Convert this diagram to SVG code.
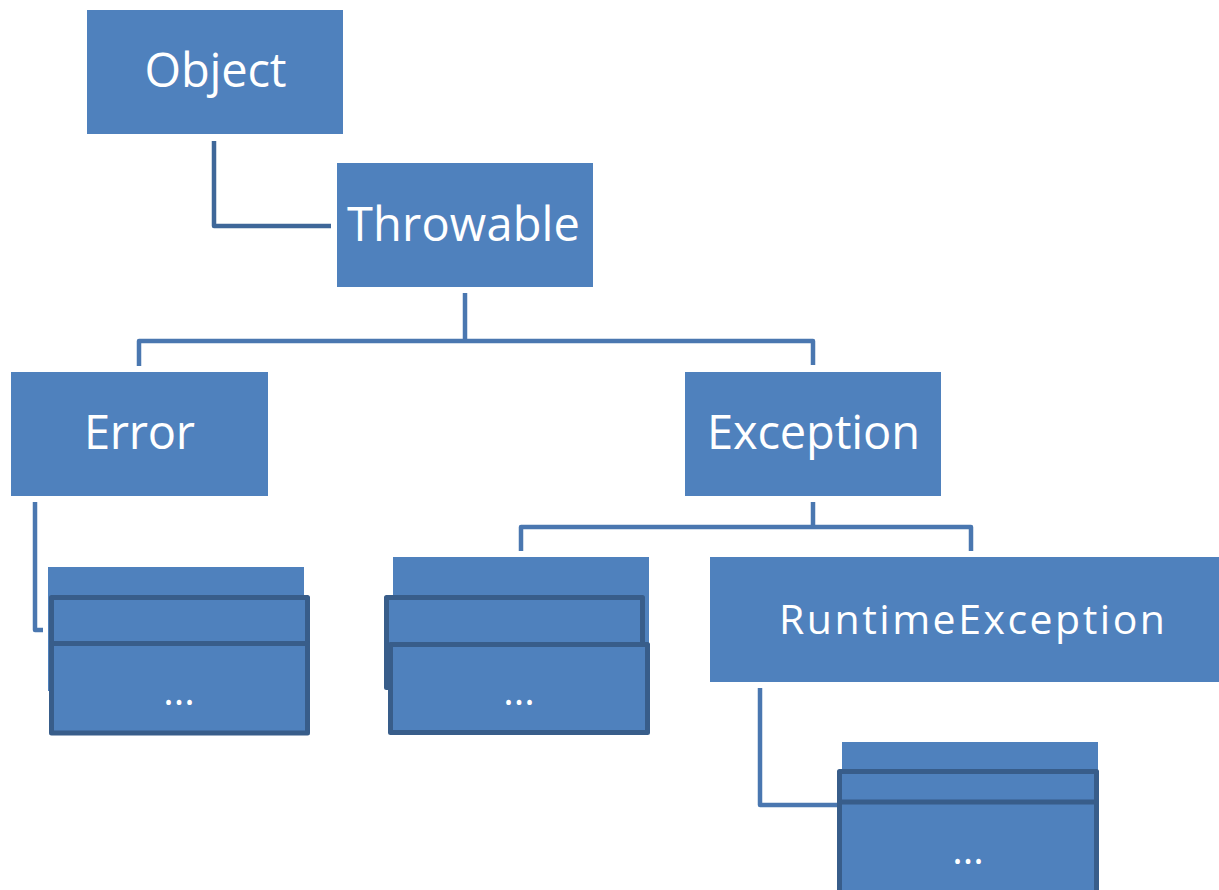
<svg xmlns="http://www.w3.org/2000/svg" width="1219" height="890" viewBox="0 0 1219 890">
<style>
.node{fill:#4f81bd;}
.box{fill:#4f81bd;stroke:#385d8a;stroke-width:5;stroke-linejoin:round;}
.lbl{fill:#ffffff;font-family:"Open Sans","Noto Sans","Liberation Sans",sans-serif;font-size:47px;text-anchor:middle;}
.lbl2{fill:#ffffff;font-family:"Open Sans","Noto Sans","Liberation Sans",sans-serif;font-size:41px;text-anchor:middle;}
.dots{fill:#ffffff;font-family:"Open Sans","Noto Sans","Liberation Sans",sans-serif;font-size:40px;text-anchor:middle;}
.conn{fill:none;stroke:#4a77b0;stroke-width:4.5;stroke-linejoin:round;}
</style>
<rect width="1219" height="890" fill="#ffffff"/>
<g id="connectors">
<path class="conn" d="M214,141 V226 H331" style="stroke:#3e6799"/>
<path class="conn" d="M465,293 V341"/>
<path class="conn" d="M139,366 V341 H813 V365"/>
<path class="conn" d="M35,502 V630 H43"/>
<path class="conn" d="M813,502 V527"/>
<path class="conn" d="M521,551 V527 H971 V551"/>
<path class="conn" d="M760,688 V805 H837"/>
</g>
<g id="object">
<rect class="node" x="87" y="10" width="256" height="124"/>
<text class="lbl" x="215.5" y="87" textLength="142">Object</text>
</g>
<g id="throwable">
<rect class="node" x="337" y="163" width="256" height="124"/>
<text class="lbl" x="463.5" y="241" textLength="233">Throwable</text>
</g>
<g id="error">
<rect class="node" x="11" y="372" width="257" height="124"/>
<text class="lbl" x="139.5" y="449" textLength="111">Error</text>
</g>
<g id="exception">
<rect class="node" x="685" y="372" width="256" height="124"/>
<text class="lbl" x="813.5" y="449" textLength="213">Exception</text>
</g>
<g id="runtimeexception">
<rect class="node" x="710" y="557" width="520" height="125"/>
<text class="lbl2" x="972" y="634" textLength="386">RuntimeException</text>
</g>
<g id="error-children">
<rect class="node" x="48" y="567" width="256" height="124"/>
<rect class="box" x="51.5" y="597.5" width="256" height="92"/>
<rect class="box" x="51.5" y="643.5" width="256" height="89.5"/>
<text class="dots" x="179" y="705">...</text>
</g>
<g id="exception-children">
<rect class="node" x="393" y="557" width="256" height="124"/>
<rect class="box" x="386.5" y="597.5" width="256" height="90"/>
<rect class="box" x="390.5" y="644.5" width="257" height="88"/>
<text class="dots" x="519" y="705">...</text>
</g>
<g id="runtime-children">
<rect class="node" x="842" y="742" width="256" height="124"/>
<rect class="box" x="839.5" y="771.5" width="257" height="140"/>
<rect class="box" x="839.5" y="802" width="257" height="120"/>
<text class="dots" x="968" y="864">...</text>
</g>
</svg>
